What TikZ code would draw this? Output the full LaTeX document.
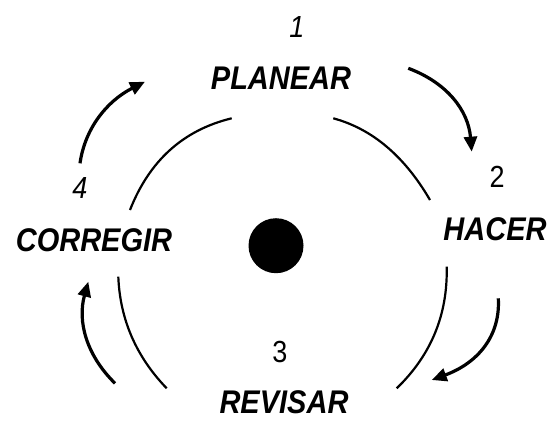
\documentclass[tikz,border=0pt]{standalone}
\usepackage{fontspec}
\usepackage{graphicx}
\setmainfont{Liberation Sans}
\usetikzlibrary{arrows.meta}
\newcommand{\tallword}[1]{\scalebox{1}[1.13]{#1}}
\begin{document}
\begin{tikzpicture}[x=1pt,y=-1pt,
  lbl/.style={inner sep=0pt,font=\fontsize{29}{29}\selectfont\bfseries\itshape},
  numi/.style={inner sep=0pt,font=\fontsize{27}{27}\selectfont\itshape},
  numu/.style={inner sep=0pt,font=\fontsize{27}{27}\selectfont},
  ring/.style={line width=2.2pt},
  arr/.style={line width=3.2pt,-{Triangle[length=15pt,width=13pt]}}]
\useasboundingbox (0,0) rectangle (553,428);
% labels
\node[numi] (n1) at (297,27.5) {\tallword{1}};
\node[lbl] (planear) at (281,78) {\tallword{PLANEAR}};
\node[numu] (n2) at (497,177) {\tallword{2}};
\node[lbl] (hacer) at (495,229) {\tallword{HACER}};
\node[numu] (n3) at (280,352) {\tallword{3}};
\node[lbl] (revisar) at (284,402.5) {\tallword{REVISAR}};
\node[numi] (n4) at (80,188) {\tallword{4}};
\node[lbl] (corregir) at (94,240) {\tallword{CORREGIR}};
\node[circle,fill=black,inner sep=0pt,minimum size=55pt] (dot) at (276,245.7) {};
% ring arcs
\coordinate (tlA) at (130,210);   \coordinate (tlB) at (231.7,118.3);
\coordinate (trA) at (333.3,118.3); \coordinate (trB) at (430,200);
\coordinate (brA) at (446.7,266.7); \coordinate (brB) at (396.7,388.3);
\coordinate (blA) at (118.3,276.7); \coordinate (blB) at (166.7,388.3);
\draw[ring] (tlA) .. controls (149.4,160.6) and (183.3,130.0) .. (tlB);
\draw[ring] (trA) .. controls (372.3,128.9) and (404.5,156.2) .. (trB);
\draw[ring] (brA) .. controls (447.8,314.6) and (431.1,355.1) .. (brB);
\draw[ring] (blA) .. controls (120.0,319.5) and (136.2,356.7) .. (blB);
% cycle arrows
\coordinate (a41s) at (80,163.3);   \coordinate (a41e) at (145,81.7);
\coordinate (a12s) at (408.3,68.3); \coordinate (a12e) at (471.7,151.7);
\coordinate (a23s) at (498.3,298.3); \coordinate (a23e) at (431.7,380);
\coordinate (a34s) at (115,383.3);  \coordinate (a34e) at (88.3,281.7);
\draw[arr] (a41s) .. controls (85,128.4) and (106.7,101.2) .. (a41e);
\draw[arr] (a12s) .. controls (447.2,82.8) and (468.3,110.6) .. (a12e);
\draw[arr] (a23s) .. controls (500.5,335.6) and (478.3,362.8) .. (a23e);
\draw[arr] (a34s) .. controls (86.2,355.0) and (77.3,321.2) .. (a34e);
\end{tikzpicture}
\end{document}
